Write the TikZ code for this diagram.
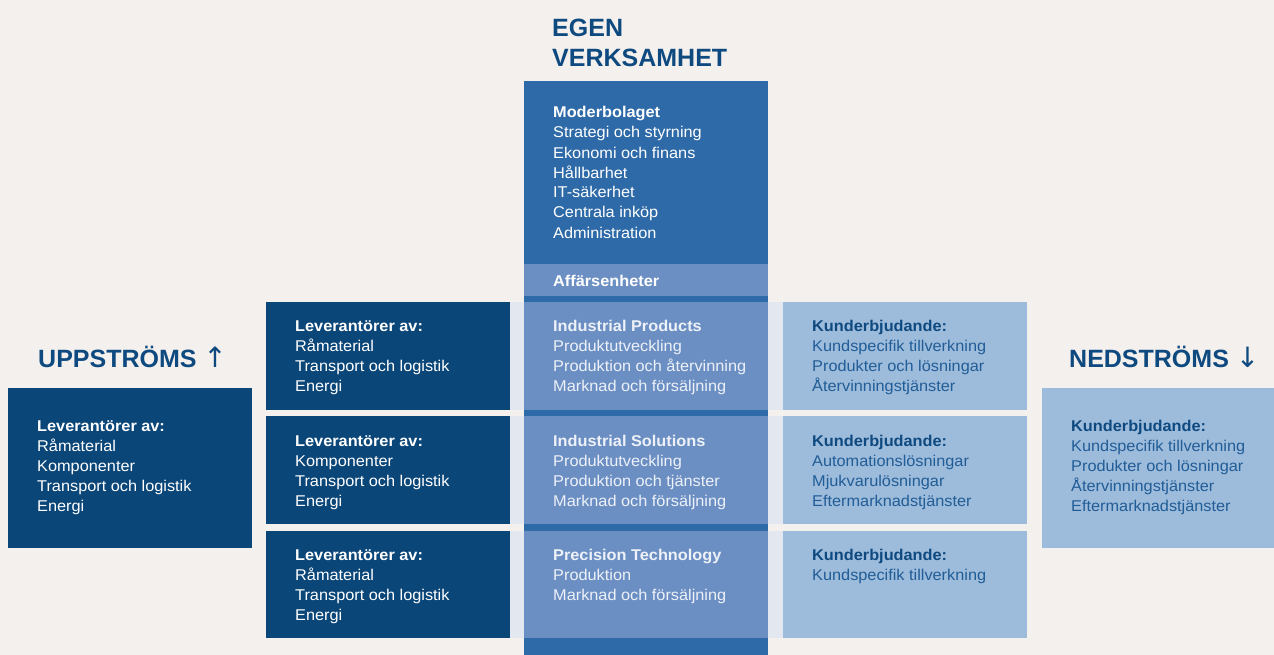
\documentclass[tikz,border=0pt]{standalone}
\usepackage{fontspec}
\setmainfont{Liberation Sans}[FakeStretch=1.045]
\newfontfamily\headfont{Liberation Sans}
\newfontfamily\arrowfont{DejaVu Sans}
\definecolor{bgc}{HTML}{F4F0ED}
\definecolor{navy}{HTML}{0B4679}
\definecolor{cdark}{HTML}{2E6AA8}
\definecolor{clight}{HTML}{6C8FC3}
\definecolor{pale}{HTML}{E3E8F0}
\definecolor{rlight}{HTML}{9DBBDB}
\definecolor{headc}{HTML}{0E4A80}
\definecolor{rtext}{HTML}{215D97}
\definecolor{ctext}{HTML}{EDF1F8}
\begin{document}
\begin{tikzpicture}[x=1pt,y=-1pt,
  body/.style={anchor=base west, inner sep=0pt, align=left, font=\fontsize{15.6}{20}\selectfont},
  head/.style={anchor=base west, inner sep=0pt, align=left, text=headc, font=\headfont\fontsize{25}{30.5}\selectfont\bfseries},
  wtext/.style={body, text=white},
  ltext/.style={body, text=ctext},
  rtx/.style={body, text=rtext}]
\fill[bgc] (0,0) rectangle (1274,655);
\useasboundingbox (0,0) rectangle (1274,655);
% central column
\fill[cdark] (524,81) rectangle (768,655);
\fill[clight] (524,264) rectangle (768,296);
% rows
\foreach \t/\b in {302/410, 416/524, 531/638}{
  \fill[pale] (510,\t) rectangle (783,\b);
  \fill[clight] (524,\t) rectangle (768,\b);
  \fill[navy] (266,\t) rectangle (510,\b);
  \fill[rlight] (783,\t) rectangle (1027,\b);
}
% outer boxes
\fill[navy] (8,388) rectangle (252,548);
\fill[rlight] (1042,388) rectangle (1274,548);
% headings (base anchor = last line's baseline)
\node[head] (egen) at (552,67) {EGEN\\VERKSAMHET};
\node[head] (upp) at (38,367) {UPPSTRÖMS {\arrowfont\mdseries\fontsize{28}{28}\selectfont ↑}};
\node[head] (ned) at (1069,367) {NEDSTRÖMS {\arrowfont\mdseries\fontsize{28}{28}\selectfont ↓}};
% center text
\node[wtext] (moder) at (553,238) {\textbf{Moderbolaget}\\Strategi och styrning\\Ekonomi och finans\\Hållbarhet\\IT-säkerhet\\Centrala inköp\\Administration};
\node[wtext] (aff) at (553,286) {\textbf{Affärsenheter}};
\node[ltext] (ip) at (553,391) {\textbf{Industrial Products}\\Produktutveckling\\Produktion och återvinning\\Marknad och försäljning};
\node[ltext] (is) at (553,506) {\textbf{Industrial Solutions}\\Produktutveckling\\Produktion och tjänster\\Marknad och försäljning};
\node[ltext] (pt) at (553,600) {\textbf{Precision Technology}\\Produktion\\Marknad och försäljning};
% left rows
\node[wtext] (lev1) at (295,391) {\textbf{Leverantörer av:}\\Råmaterial\\Transport och logistik\\Energi};
\node[wtext] (lev2) at (295,506) {\textbf{Leverantörer av:}\\Komponenter\\Transport och logistik\\Energi};
\node[wtext] (lev3) at (295,620) {\textbf{Leverantörer av:}\\Råmaterial\\Transport och logistik\\Energi};
% right rows
\node[rtx] (kb1) at (812,391) {\textcolor{headc}{\textbf{Kunderbjudande:}}\\Kundspecifik tillverkning\\Produkter och lösningar\\Återvinningstjänster};
\node[rtx] (kb2) at (812,506) {\textcolor{headc}{\textbf{Kunderbjudande:}}\\Automationslösningar\\Mjukvarulösningar\\Eftermarknadstjänster};
\node[rtx] (kb3) at (812,580) {\textcolor{headc}{\textbf{Kunderbjudande:}}\\Kundspecifik tillverkning};
% outer texts
\node[wtext] (upptext) at (37,511) {\textbf{Leverantörer av:}\\Råmaterial\\Komponenter\\Transport och logistik\\Energi};
\node[rtx] (nedtext) at (1071,511) {\textcolor{headc}{\textbf{Kunderbjudande:}}\\Kundspecifik tillverkning\\Produkter och lösningar\\Återvinningstjänster\\Eftermarknadstjänster};
\end{tikzpicture}
\end{document}
